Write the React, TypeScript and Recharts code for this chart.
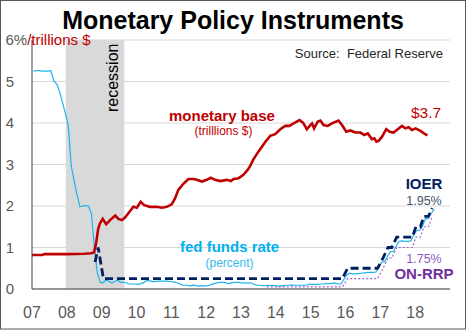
import React from "react";
import {
  ComposedChart,
  Line,
  XAxis,
  YAxis,
  CartesianGrid,
  ReferenceArea,
} from "recharts";

// ---- data ----
const yearTicks = [2007, 2008, 2009, 2010, 2011, 2012, 2013, 2014, 2015, 2016, 2017, 2018];
const valueTicks = [0, 1, 2, 3, 4, 5, 6];
const recession = [2007.97, 2009.65];

// effective fed funds rate, monthly (percent)
const fedFundsStartYear = 2007;
const fedFundsMonthly = [
  [5.25, 5.26, 5.26, 5.25, 5.25, 5.25, 5.26, 5.02, 4.94, 4.76, 4.49, 4.24],
  [3.94, 2.98, 2.61, 2.28, 1.98, 2.0, 2.01, 2.0, 1.81, 0.97, 0.39, 0.16],
  [0.15, 0.22, 0.18, 0.15, 0.18, 0.21, 0.16, 0.16, 0.15, 0.12, 0.12, 0.12],
  [0.11, 0.13, 0.16, 0.2, 0.2, 0.18, 0.18, 0.19, 0.19, 0.19, 0.19, 0.18],
  [0.17, 0.16, 0.14, 0.1, 0.09, 0.09, 0.07, 0.1, 0.08, 0.07, 0.08, 0.07],
  [0.08, 0.1, 0.13, 0.14, 0.16, 0.16, 0.16, 0.13, 0.14, 0.16, 0.16, 0.16],
  [0.14, 0.15, 0.14, 0.15, 0.11, 0.09, 0.09, 0.08, 0.08, 0.09, 0.08, 0.09],
  [0.07, 0.07, 0.08, 0.09, 0.09, 0.1, 0.09, 0.09, 0.09, 0.09, 0.09, 0.12],
  [0.11, 0.11, 0.11, 0.12, 0.12, 0.13, 0.13, 0.14, 0.14, 0.12, 0.12, 0.24],
  [0.34, 0.38, 0.36, 0.37, 0.37, 0.38, 0.39, 0.4, 0.4, 0.4, 0.41, 0.54],
  [0.65, 0.66, 0.79, 0.9, 0.91, 1.04, 1.15, 1.16, 1.15, 1.15, 1.16, 1.3],
  [1.41, 1.42, 1.51, 1.69, 1.7, 1.82, 1.91],
];

// interest on excess reserves (percent)
const ioer = [
  [2008.81, 0.65], [2008.9, 1.0], [2009.05, 0.25], [2015.91, 0.25], [2016.06, 0.5],
  [2016.92, 0.5], [2017.08, 0.75], [2017.22, 1.0], [2017.33, 1.0], [2017.47, 1.25],
  [2017.92, 1.25], [2018.02, 1.5], [2018.15, 1.5], [2018.25, 1.75], [2018.38, 1.75],
  [2018.49, 1.95],
];

// overnight reverse repo rate (percent)
const onRrp = [
  [2013.74, 0.05], [2015.91, 0.05], [2016.06, 0.25], [2016.92, 0.25], [2017.08, 0.5],
  [2017.22, 0.75], [2017.33, 0.75], [2017.47, 1.0], [2017.92, 1.0], [2018.02, 1.25],
  [2018.15, 1.25], [2018.25, 1.5], [2018.38, 1.5], [2018.49, 1.75],
];

// monetary base (trillions $)
const monetaryBase = [
  [2007.0, 0.82], [2007.3, 0.82], [2007.35, 0.84], [2008.0, 0.84], [2008.5, 0.85],
  [2008.7, 0.86], [2008.78, 0.88], [2008.84, 1.1], [2008.9, 1.45], [2008.95, 1.58],
  [2009.03, 1.69], [2009.13, 1.56], [2009.24, 1.66], [2009.39, 1.77], [2009.48, 1.69],
  [2009.58, 1.66], [2009.67, 1.72], [2009.8, 1.86], [2009.91, 1.98], [2010.01, 1.96],
  [2010.12, 2.1], [2010.22, 2.02], [2010.39, 1.98], [2010.58, 1.98], [2010.73, 1.96],
  [2010.87, 1.98], [2011.01, 2.04], [2011.11, 2.19], [2011.2, 2.39], [2011.33, 2.52],
  [2011.49, 2.65], [2011.64, 2.65], [2011.73, 2.63], [2011.88, 2.59], [2012.02, 2.63],
  [2012.13, 2.68], [2012.26, 2.63], [2012.4, 2.6], [2012.59, 2.63], [2012.71, 2.6],
  [2012.79, 2.65], [2012.93, 2.67], [2013.07, 2.75], [2013.19, 2.87], [2013.26, 2.96],
  [2013.36, 3.13], [2013.5, 3.31], [2013.7, 3.55], [2013.84, 3.69], [2013.98, 3.73],
  [2014.13, 3.85], [2014.27, 3.93], [2014.39, 3.93], [2014.51, 3.99], [2014.68, 4.07],
  [2014.78, 4.01], [2014.89, 3.85], [2014.99, 3.95], [2015.04, 3.99], [2015.1, 3.87],
  [2015.2, 4.03], [2015.28, 4.06], [2015.37, 3.95], [2015.49, 3.93], [2015.61, 3.99],
  [2015.8, 4.06], [2015.9, 3.95], [2016.02, 3.79], [2016.14, 3.82], [2016.28, 3.77],
  [2016.43, 3.77], [2016.54, 3.71], [2016.64, 3.75], [2016.76, 3.61], [2016.83, 3.63],
  [2016.89, 3.55], [2016.95, 3.57], [2017.05, 3.67], [2017.17, 3.85], [2017.27, 3.79],
  [2017.38, 3.77], [2017.5, 3.85], [2017.62, 3.93], [2017.72, 3.87], [2017.81, 3.9],
  [2017.91, 3.83], [2018.01, 3.87], [2018.15, 3.81], [2018.29, 3.73], [2018.35, 3.7],
];

const toRows = (pairs: number[][]) => pairs.map(([x, v]) => ({ x, v }));
const fedFundsRows = fedFundsMonthly.flatMap((vals, yi) =>
  vals.map((v, mi) => ({ x: fedFundsStartYear + yi + (mi + 0.5) / 12, v }))
);
const ioerRows = toRows(ioer);
const onRrpRows = toRows(onRrp);
const baseRows = toRows(monetaryBase);

const FONT = "'Liberation Sans', Arial, sans-serif";
const RED = "#C00000";
const BLUE = "#1EB4EE";
const NAVY = "#002060";
const PURPLE = "#7030A0";
const GRAY = "#595959";

const YTick = (props: any) => {
  const { x, y, payload } = props;
  if (payload.value === 6) {
    return (
      <text x={x - 24.5} y={y} dy={5} fontSize={15} fontFamily={FONT} fill={GRAY}>
        <tspan>6%</tspan>
        <tspan fill={RED}>/trillions $</tspan>
      </text>
    );
  }
  return (
    <text x={x - 16} y={y} dy={5} textAnchor="end" fontSize={15} fontFamily={FONT} fill={GRAY}>
      {payload.value}
    </text>
  );
};

const XTick = (props: any) => {
  const { x, y, payload } = props;
  return (
    <text x={x} y={y} dy={27} textAnchor="middle" fontSize={16} fontFamily={FONT} fill={GRAY}>
      {String(payload.value % 100).padStart(2, "0")}
    </text>
  );
};

export default function App() {
  return (
    <div
      style={{
        position: "absolute",
        left: 0,
        top: 0,
        width: 468,
        height: 330,
        background: "#fff",
        fontFamily: FONT,
      }}
    >
      <ComposedChart
        width={468}
        height={330}
        margin={{ top: 40, right: 18, bottom: 0, left: 0 }}
      >
        <CartesianGrid horizontal vertical={false} stroke="#D9D9D9" />
        <ReferenceArea
          x1={recession[0]}
          x2={recession[1]}
          fill="#D9D9D9"
          fillOpacity={1}
          stroke="none"
        />
        <XAxis
          dataKey="x"
          type="number"
          domain={[2007, 2019]}
          ticks={yearTicks}
          allowDataOverflow
          height={41}
          tickLine={false}
          tickSize={0}
          axisLine={{ stroke: "#404040" }}
          tick={<XTick />}
          interval={0}
        />
        <YAxis
          type="number"
          domain={[0, 6]}
          ticks={valueTicks}
          width={32}
          tickLine={false}
          tickSize={0}
          axisLine={{ stroke: "#404040" }}
          tick={<YTick />}
          interval={0}
        />
        <Line
          data={fedFundsRows}
          dataKey="v"
          type="linear"
          stroke={BLUE}
          strokeWidth={1.2}
          dot={false}
          isAnimationActive={false}
        />
        <Line
          data={onRrpRows}
          dataKey="v"
          type="linear"
          stroke="#9966CC"
          strokeWidth={1.2}
          strokeDasharray="2 2"
          dot={false}
          isAnimationActive={false}
        />
        <Line
          data={baseRows}
          dataKey="v"
          type="linear"
          stroke={RED}
          strokeWidth={2.6}
          dot={false}
          isAnimationActive={false}
        />
        <Line
          data={ioerRows}
          dataKey="v"
          type="linear"
          stroke={NAVY}
          strokeWidth={2.8}
          strokeDasharray="8 4"
          dot={false}
          isAnimationActive={false}
        />
      </ComposedChart>
      <svg
        width={468}
        height={330}
        style={{ position: "absolute", left: 0, top: 0, pointerEvents: "none" }}
        fontFamily={FONT}
      >
        <rect x={0.5} y={0.5} width={465} height={328.5} fill="none" stroke="#595959" strokeWidth={1} />
        <text x={233} y={29} textAnchor="middle" fontSize={25} fontWeight="bold" fill="#000">
          Monetary Policy Instruments
        </text>
        <text x={443} y={58} textAnchor="end" fontSize={13} fill="#262626">
          Source:{"\u00a0 "}Federal Reserve
        </text>
        <text x={118} y={112} transform="rotate(-90 118 112)" fontSize={16} fill="#000">
          recession
        </text>
        <text x={169} y={121} fontSize={15} fontWeight="bold" fill={RED}>
          monetary base
        </text>
        <text x={223.5} y={135} textAnchor="middle" fontSize={12} fill={RED}>
          (trilllions $)
        </text>
        <text x={411} y={118} fontSize={15.5} fill={RED}>
          $3.7
        </text>
        <text x={180} y={252} fontSize={15} fontWeight="bold" fill="#00B0F0">
          fed funds rate
        </text>
        <text x={229.5} y={267} textAnchor="middle" fontSize={12} fill="#33BBEE">
          (percent)
        </text>
        <text x={424} y={189} textAnchor="middle" fontSize={15} fontWeight="bold" fill={NAVY}>
          IOER
        </text>
        <text x={424} y={205} textAnchor="middle" fontSize={12.5} fill="#44546A">
          1.95%
        </text>
        <text x={424} y={263} textAnchor="middle" fontSize={12.5} fill="#8E5BC4">
          1.75%
        </text>
        <text x={424} y={279} textAnchor="middle" fontSize={15} fontWeight="bold" fill={PURPLE}>
          ON-RRP
        </text>
      </svg>
    </div>
  );
}
